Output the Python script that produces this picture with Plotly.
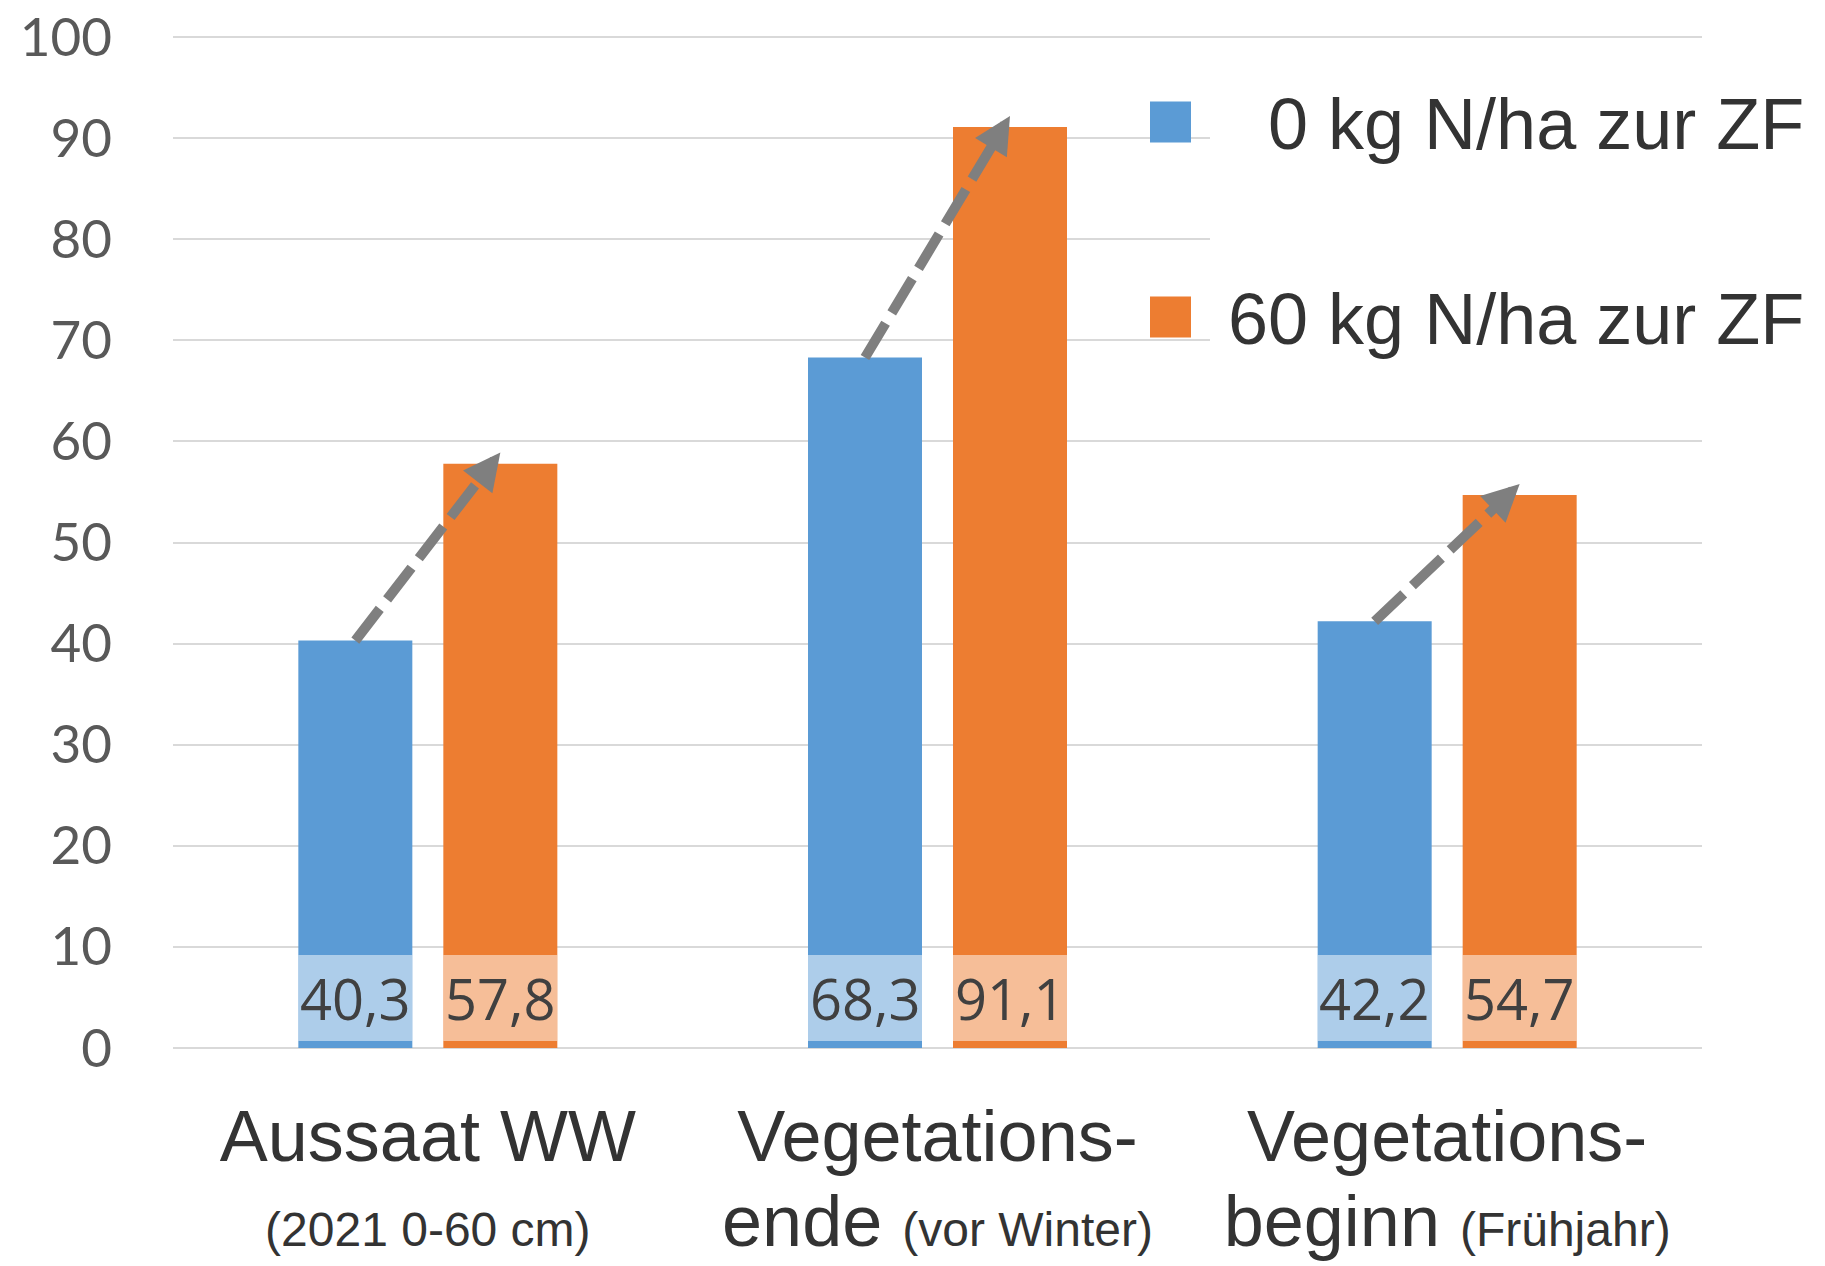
import math
import plotly.graph_objects as go

# --- data -------------------------------------------------------------
categories = [
    "<span style='font-size:72px'>Aussaat WW</span><br>"
    "<span style='font-size:48px'>(2021 0-60 cm)</span>",
    "<span style='font-size:72px'>Vegetations-</span><br>"
    "<span style='font-size:72px'>ende </span><span style='font-size:48px'>(vor Winter)</span>",
    "<span style='font-size:72px'>Vegetations-</span><br>"
    "<span style='font-size:72px'>beginn </span><span style='font-size:48px'>(Frühjahr)</span>",
]
series_names = ["0 kg N/ha zur ZF", "60 kg N/ha zur ZF"]
n_0kg = [40.3, 68.3, 42.2]
n_60kg = [57.8, 91.1, 54.7]
y_ticks = [0, 10, 20, 30, 40, 50, 60, 70, 80, 90, 100]

# --- styling ----------------------------------------------------------
BLUE = "#5B9BD5"
ORANGE = "#ED7D31"
ARROW_GREY = "#7F7F7F"
GRID = "#D9D9D9"

W, H = 1825, 1266
Y_MAX = 100.3                     # a little headroom so the 100 grid line shows
PLOT_L, PLOT_R, PLOT_B = 173, 1702, 1048
PX_PER_UNIT = (PLOT_B - 37) / 100
PLOT_T = PLOT_B - Y_MAX * PX_PER_UNIT
PX_PER_CAT = (PLOT_R - PLOT_L) / 3
BAR_W = 114 / PX_PER_CAT          # bar width in category units
INNER_GAP = 31 / PX_PER_CAT       # gap between the two bars of a group
HALF = INNER_GAP / 2 + BAR_W / 2  # bar centre offset from category centre
BAND = (0.7, 9.2)                 # value band behind the data labels
ARROW_LIFT = 1.1                  # arrow tip sits slightly above the bar
HEAD_LEN = 37                     # arrow head length in px
LINE_BACK = 22                    # dashed shaft stops this far before the tip (px)


def paper_x(px):
    return (px - PLOT_L) / (PLOT_R - PLOT_L)


def paper_y(py):
    return (PLOT_B - py) / (PLOT_B - PLOT_T)


x_pos = list(range(len(categories)))
fig = go.Figure()

for vals, color, offset, name in [
    (n_0kg, BLUE, -(BAR_W + INNER_GAP / 2), series_names[0]),
    (n_60kg, ORANGE, INNER_GAP / 2, series_names[1]),
]:
    fig.add_trace(go.Bar(
        x=x_pos, y=vals, name=name, width=BAR_W, offset=offset,
        marker=dict(color=color, line=dict(width=0)),
        showlegend=False, hoverinfo="y",
    ))

shapes = []
annotations = []

# dashed arrows from the 0 kg bar to the 60 kg bar
for i in x_pos:
    x0, y0 = i - HALF, n_0kg[i]
    x1, y1 = i + HALF, n_60kg[i] + ARROW_LIFT
    dx_px = (x1 - x0) * PX_PER_CAT
    dy_px = (y1 - y0) * PX_PER_UNIT
    length = math.hypot(dx_px, dy_px)
    ux, uy = dx_px / length, dy_px / length
    fig.add_trace(go.Scatter(
        x=[x0, x1 - ux * LINE_BACK / PX_PER_CAT],
        y=[y0, y1 - uy * LINE_BACK / PX_PER_UNIT],
        mode="lines",
        line=dict(color=ARROW_GREY, width=10, dash="40px,12px"),
        showlegend=False, hoverinfo="skip",
    ))
    annotations.append(dict(
        x=x1, y=y1, xref="x", yref="y", text="",
        showarrow=True, arrowhead=2, arrowsize=0.74, arrowwidth=10,
        arrowcolor=ARROW_GREY, ax=-ux * HEAD_LEN, ay=uy * HEAD_LEN,
        standoff=0,
    ))

# translucent label bands with the values
for vals, sign in [(n_0kg, -1), (n_60kg, 1)]:
    for i, v in zip(x_pos, vals):
        cx = i + sign * HALF
        shapes.append(dict(
            type="rect", xref="x", yref="y",
            x0=cx - BAR_W / 2, x1=cx + BAR_W / 2, y0=BAND[0], y1=BAND[1],
            fillcolor="rgba(255,255,255,0.5)", line=dict(width=0), layer="above",
        ))
        annotations.append(dict(
            x=cx, y=(BAND[0] + BAND[1]) / 2, xref="x", yref="y",
            text=f"{v:.1f}".replace(".", ","), showarrow=False,
            font=dict(family="Open Sans", size=56, color="#404040"),
            xanchor="center", yanchor="middle",
        ))

# legend area: white backing over the grid and colour keys
shapes.append(dict(
    type="rect", xref="paper", yref="paper",
    x0=paper_x(1210), x1=1.0, y0=paper_y(400), y1=paper_y(70),
    fillcolor="white", line=dict(width=0), layer="above",
))
for name, color, cy in [(series_names[0], BLUE, 122), (series_names[1], ORANGE, 317)]:
    shapes.append(dict(
        type="rect", xref="paper", yref="paper",
        x0=paper_x(1150), x1=paper_x(1191), y0=paper_y(cy + 20.5), y1=paper_y(cy - 20.5),
        fillcolor=color, line=dict(width=0), layer="above",
    ))
    annotations.append(dict(
        x=paper_x(1806), y=paper_y(cy + 2), xref="paper", yref="paper",
        text=name, showarrow=False, xanchor="right", yanchor="middle",
        font=dict(family="Liberation Sans, Arial", size=72, color="#333333"),
    ))

fig.update_layout(
    width=W, height=H,
    margin=dict(l=PLOT_L, r=W - PLOT_R, t=PLOT_T, b=H - PLOT_B, pad=0,
                autoexpand=False),
    paper_bgcolor="white", plot_bgcolor="white",
    barmode="overlay",
    shapes=shapes, annotations=annotations,
    xaxis=dict(
        range=[-0.5, len(categories) - 0.5], tickmode="array",
        tickvals=x_pos, ticktext=categories, automargin=False,
        showgrid=False, zeroline=False, showline=False, ticks="",
        tickfont=dict(family="Liberation Sans, Arial", size=65, color="#333333"),
        ticklabelstandoff=47, ticklabeloverflow="allow",
    ),
    yaxis=dict(
        range=[0, Y_MAX], tickmode="array", tickvals=y_ticks, automargin=False,
        showgrid=True, gridcolor=GRID, gridwidth=2,
        zeroline=True, zerolinecolor=GRID, zerolinewidth=2,
        showline=False, ticks="",
        tickfont=dict(family="Lato", size=53, color="#595959"),
        ticklabelstandoff=60, ticklabeloverflow="allow",
    ),
)

fig.write_html("out.html")
